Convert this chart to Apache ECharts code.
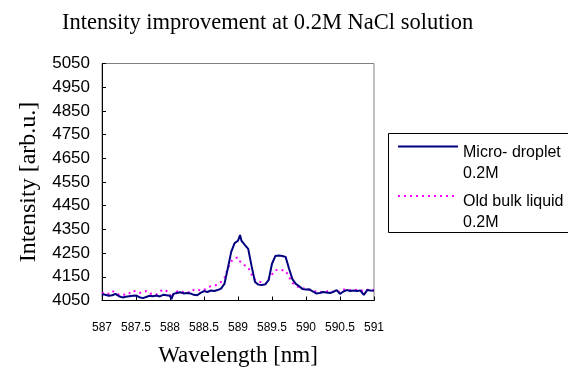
<!DOCTYPE html>
<html>
<head>
<meta charset="utf-8">
<script src="https://cdn.jsdelivr.net/npm/echarts@6/dist/echarts.min.js"></script>
<style>
  html, body { margin: 0; padding: 0; background: #fff; }
  #chart { width: 568px; height: 378px; }
</style>
</head>
<body>
<div id="chart"></div>
<script>
// wavelength [nm] (denser around the two Na lines)
const wavelength = [
  587.00, 587.05, 587.10, 587.15, 587.20, 587.25, 587.30, 587.35, 587.40, 587.45,
  587.50, 587.55, 587.60, 587.65, 587.70, 587.75, 587.80, 587.85, 587.90, 587.95,
  588.00, 588.02, 588.05, 588.10, 588.15, 588.20, 588.25, 588.30, 588.35, 588.40,
  588.45, 588.50, 588.55, 588.60, 588.65, 588.70, 588.75, 588.80, 588.85, 588.90,
  588.95, 589.00, 589.03, 589.05, 589.10, 589.15, 589.20, 589.25, 589.30, 589.35,
  589.40, 589.45, 589.50, 589.55, 589.60, 589.65, 589.70, 589.75, 589.80, 589.85,
  589.90, 589.95, 590.00, 590.05, 590.10, 590.15, 590.20, 590.25, 590.30, 590.35,
  590.40, 590.45, 590.50, 590.55, 590.60, 590.65, 590.70, 590.75, 590.80, 590.85,
  590.90, 590.95, 591.00
]
const microDroplet = [
  4076, 4074, 4070, 4072, 4078, 4068, 4063, 4066, 4068, 4070,
  4071, 4064, 4060, 4065, 4070, 4068, 4071, 4067, 4074, 4072,
  4070, 4056, 4078, 4082, 4085, 4080, 4082, 4080, 4074, 4072,
  4082, 4090, 4086, 4092, 4090, 4094, 4100, 4120, 4185, 4255,
  4292, 4302, 4326, 4303, 4285, 4268, 4195, 4128, 4117, 4115,
  4118, 4136, 4205, 4238, 4240, 4238, 4234, 4185, 4140, 4120,
  4110, 4098, 4096, 4097, 4088, 4080, 4082, 4086, 4084, 4082,
  4086, 4094, 4078, 4088, 4094, 4090, 4092, 4090, 4092, 4074,
  4094, 4092, 4091
]
const oldBulk = [
  4080, 4085, 4078, 4090, 4084, 4075, 4078, 4072, 4080, 4092,
  4088, 4082, 4085, 4090, 4078, 4080, 4075, 4088, 4097, 4090,
  4076, 4060, 4075, 4088, 4090, 4085, 4088, 4082, 4095, 4098,
  4092, 4095, 4105, 4110, 4112, 4118, 4128, 4145, 4185, 4215,
  4228, 4232, 4215, 4207, 4198, 4190, 4160, 4138, 4132, 4125,
  4118, 4138, 4160, 4178, 4180, 4178, 4176, 4150, 4125, 4112,
  4105, 4102, 4098, 4094, 4090, 4088, 4086, 4085, 4088, 4090,
  4087, 4083, 4090, 4096, 4097, 4094, 4096, 4094, 4095, 4088,
  4095, 4097, 4094
]
const yTicks = [4050, 4150, 4250, 4350, 4450, 4550, 4650, 4750, 4850, 4950, 5050]
const legendText = { 'Micro- droplet': ['Micro- droplet', '0.2M'], 'Old bulk liquid': ['Old bulk liquid', '0.2M'] }

const chart = echarts.init(document.getElementById('chart'))

const option = {
  backgroundColor: '#fff',
  animation: false,
  title: {
    text: 'Intensity improvement at 0.2M NaCl solution',
    left: 57,
    top: 7,
    textStyle: { fontFamily: 'Liberation Serif', fontSize: 22.5, fontWeight: 'normal', color: '#000' }
  },
  legend: {
    orient: 'vertical',
    left: 388,
    top: 109,
    padding: [0, 0, 0, 9],
    itemGap: -23,
    itemWidth: 60,
    itemHeight: 14,
    itemStyle: { opacity: 0 },
    textStyle: {
      fontFamily: 'Liberation Sans', fontSize: 16, color: '#000',
      rich: {
        s: { height: 33, lineHeight: 33, fontSize: 1 },
        t: { fontFamily: 'Liberation Sans', fontSize: 16, lineHeight: 21, color: '#000' }
      }
    },
    formatter: function (name) {
      return '{s| }\n{t|' + legendText[name][0] + '}\n{t|' + legendText[name][1] + '}'
    },
    data: ['Micro- droplet', 'Old bulk liquid']
  },
  graphic: [
    {
      type: 'rect',
      left: 386,
      top: 131,
      shape: { width: 190, height: 99 },
      style: { fill: 'none', stroke: '#000', lineWidth: 1 }
    }
  ],
  grid: { left: 102, right: 194, top: 63.5, bottom: 77.5, show: true, borderColor: '#808080', borderWidth: 1 },
  xAxis: {
    type: 'value',
    min: 587,
    max: 591,
    interval: 0.5,
    name: 'Wavelength [nm]',
    nameLocation: 'middle',
    nameGap: 44,
    nameTextStyle: { fontFamily: 'Liberation Serif', fontSize: 23, color: '#000' },
    axisLine: { lineStyle: { color: '#000', width: 1 } },
    axisTick: { inside: true, length: 4, lineStyle: { color: '#000' } },
    axisLabel: { margin: 21, fontFamily: 'Liberation Sans', fontSize: 12, color: '#000' },
    splitLine: { show: false }
  },
  yAxis: {
    type: 'value',
    min: 4050,
    max: 5050,
    name: 'Intensity [arb.u.]',
    nameLocation: 'middle',
    nameGap: 61,
    nameTextStyle: { fontFamily: 'Liberation Serif', fontSize: 24, color: '#000' },
    axisLine: { show: true, lineStyle: { color: '#000', width: 1 } },
    axisTick: { show: true, inside: true, length: 4, customValues: yTicks, lineStyle: { color: '#000' } },
    axisLabel: {
      margin: 12, customValues: yTicks, fontFamily: 'Liberation Sans', fontSize: 17, color: '#000',
      formatter: function (v) { return String(v) }
    },
    splitLine: { show: false }
  },
  series: [
    {
      name: 'Micro- droplet',
      type: 'line',
      data: wavelength.map((w, i) => [w, microDroplet[i]]),
      symbol: 'none',
      lineStyle: { color: '#000080', width: 2 },
      itemStyle: { color: '#000080' },
      z: 3
    },
    {
      name: 'Old bulk liquid',
      type: 'line',
      data: wavelength.map((w, i) => [w, oldBulk[i]]),
      symbol: 'none',
      lineStyle: { color: '#ff00ff', width: 2, type: [2, 4] },
      itemStyle: { color: '#ff00ff' },
      z: 2
    }
  ]
}

chart.setOption(option)
</script>
</body>
</html>
